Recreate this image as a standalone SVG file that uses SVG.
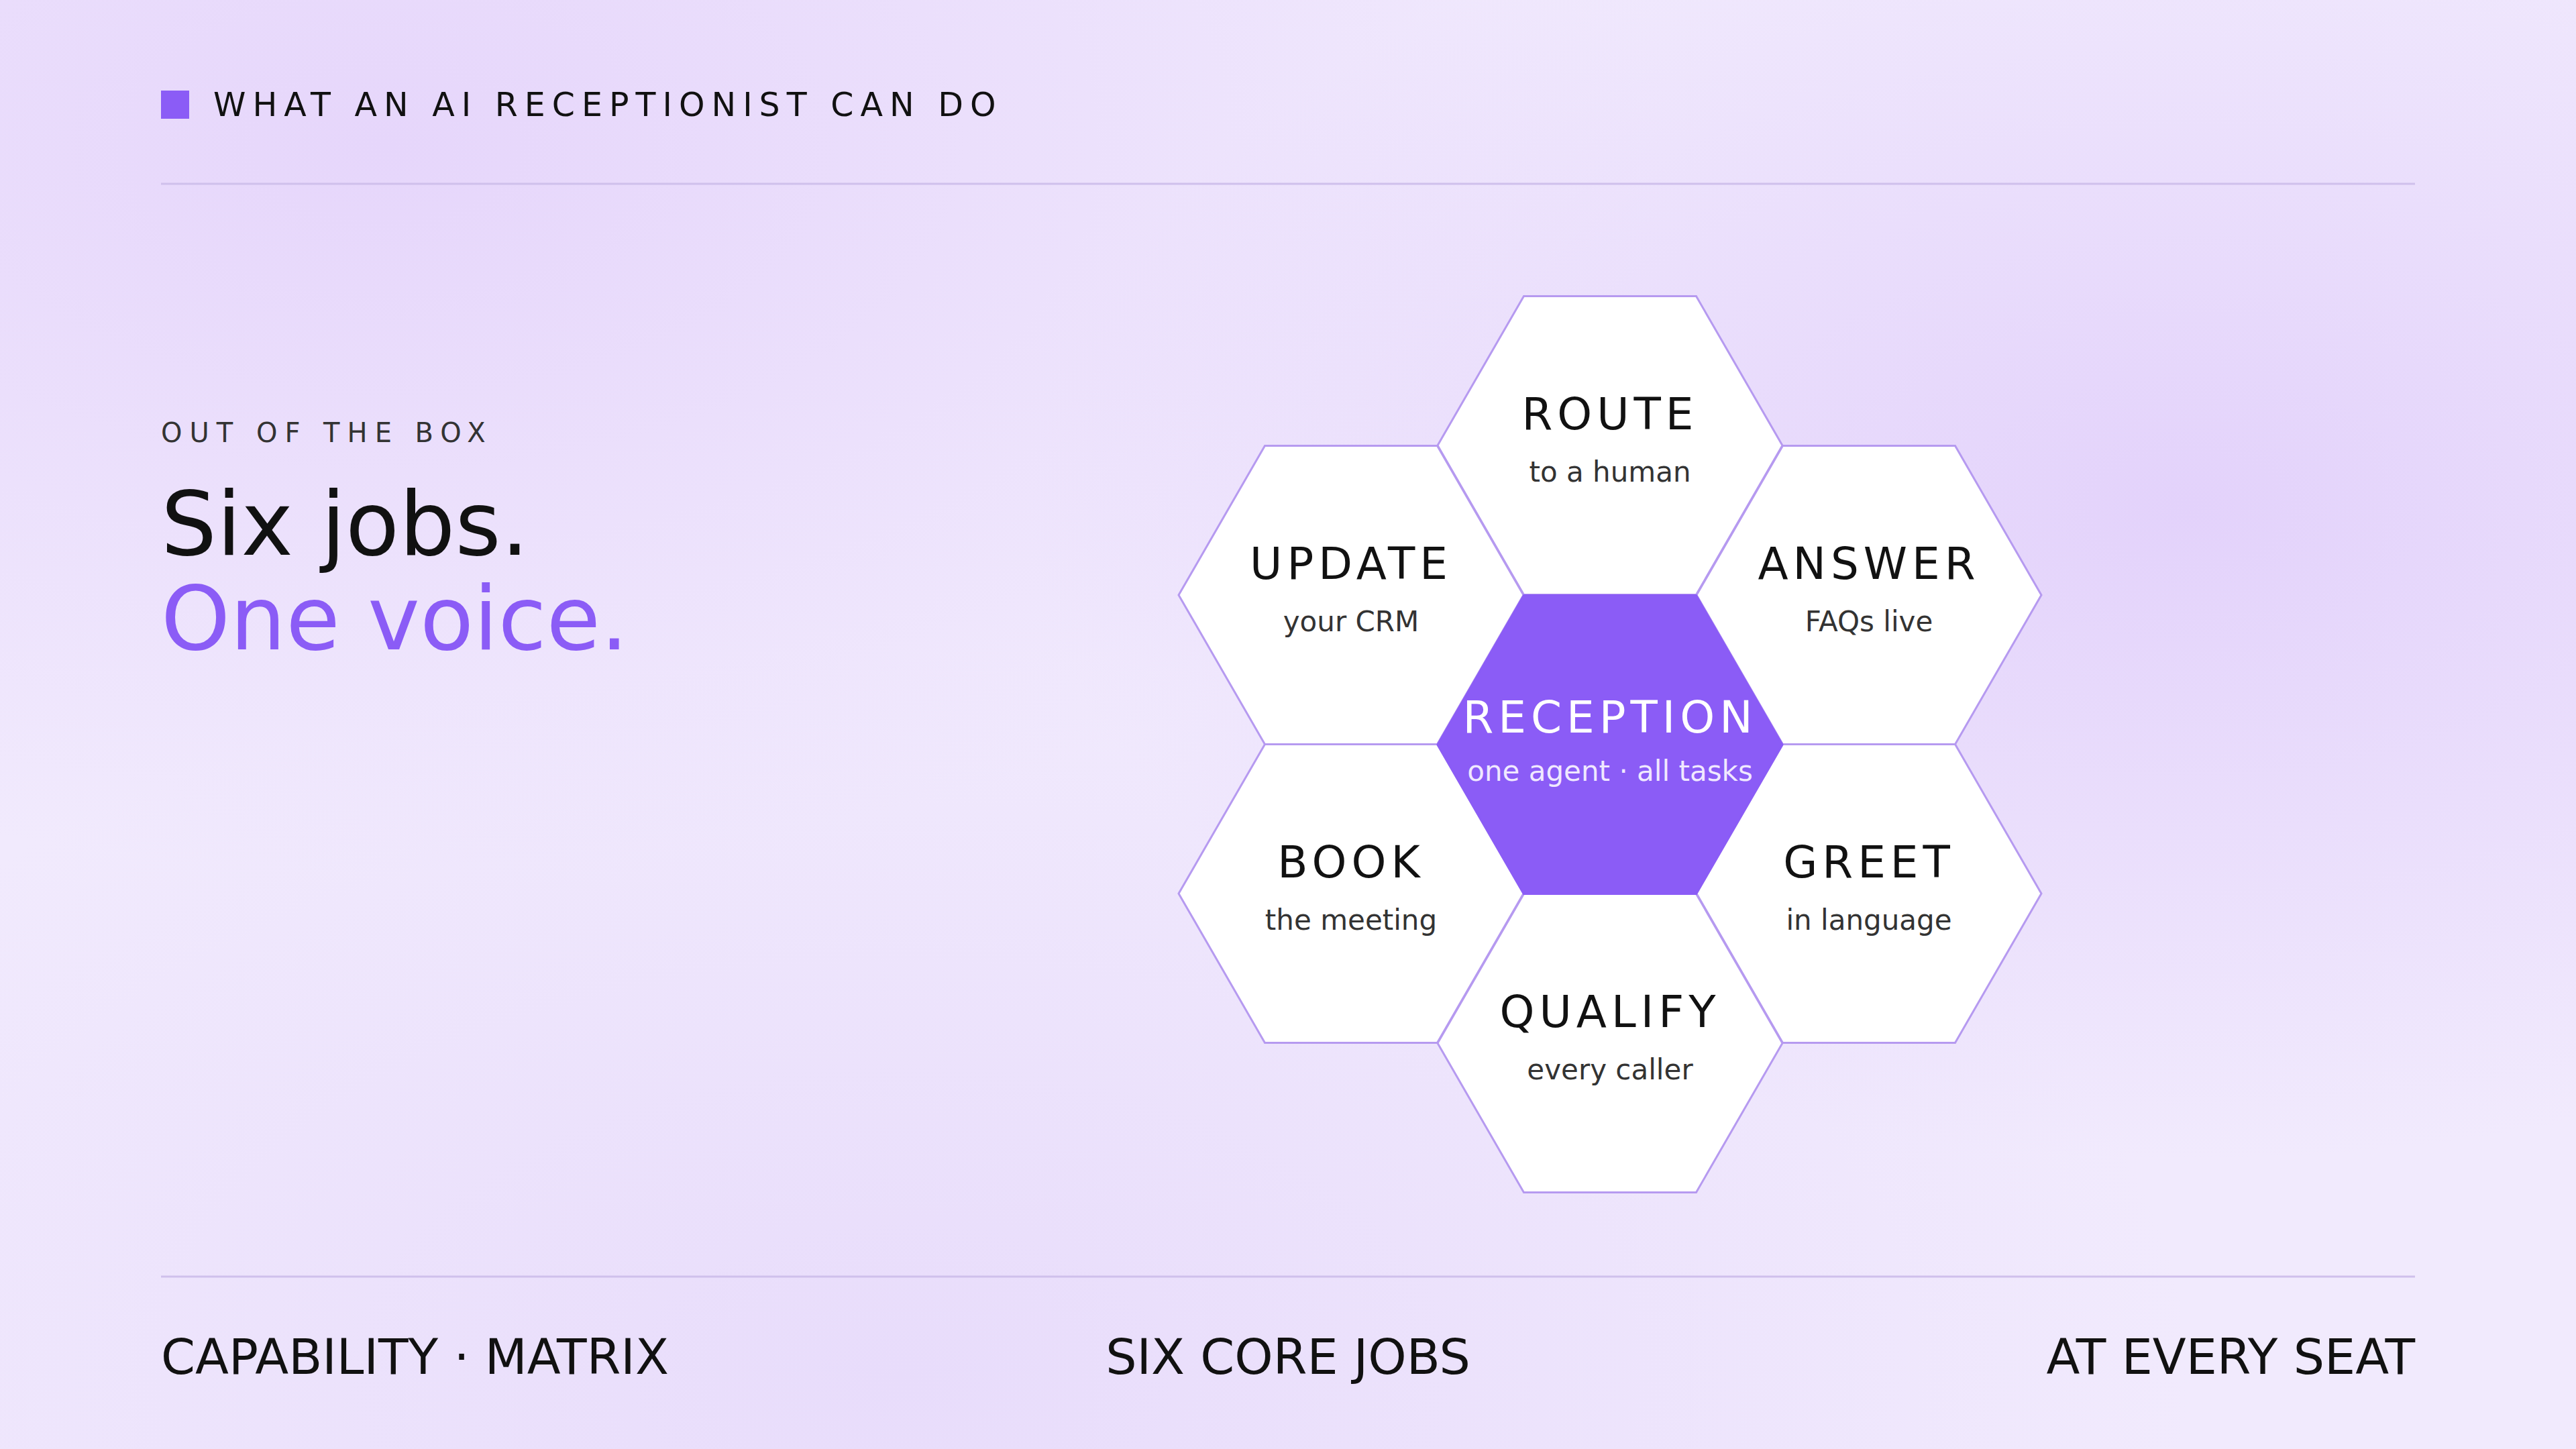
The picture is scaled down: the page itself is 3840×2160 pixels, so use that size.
<svg xmlns="http://www.w3.org/2000/svg" width="3840" height="2160" viewBox="0 0 3840 2160">
<defs>
<radialGradient id="g1" cx="0.15" cy="0.1" r="0.5"><stop offset="0" stop-color="#e6d6fb"/><stop offset="1" stop-color="#e6d6fb" stop-opacity="0"/></radialGradient>
<radialGradient id="g2" cx="0.85" cy="0.35" r="0.45"><stop offset="0" stop-color="#e3d2fb"/><stop offset="1" stop-color="#e3d2fb" stop-opacity="0"/></radialGradient>
<radialGradient id="g3" cx="0.35" cy="0.95" r="0.5"><stop offset="0" stop-color="#e8dcfb"/><stop offset="1" stop-color="#e8dcfb" stop-opacity="0"/></radialGradient>
<polygon id="hex" points="-257,0 -128.5,-222.5 128.5,-222.5 257,0 128.5,222.5 -128.5,222.5"/>
</defs>
<style>
text{font-family:"DejaVu Sans","Liberation Sans",sans-serif}
.hx{fill:#fff;stroke:#b69af0;stroke-width:3}
.t{font-size:66px;letter-spacing:7px;fill:#111;text-anchor:middle}
.s{font-size:42px;fill:#333;text-anchor:middle}
.f{font-size:73px;fill:#111}
</style>
<rect width="3840" height="2160" fill="#f1eafd"/>
<rect width="3840" height="2160" fill="url(#g1)"/>
<rect width="3840" height="2160" fill="url(#g2)"/>
<rect width="3840" height="2160" fill="url(#g3)"/>
<rect x="240" y="135" width="42" height="42" fill="#8b5cf6"/>
<text x="318" y="173" font-size="49" letter-spacing="10" fill="#111">WHAT AN AI RECEPTIONIST CAN DO</text>
<line x1="240" y1="274" x2="3600" y2="274" stroke="#cfc0ec" stroke-width="3"/>
<text x="240" y="659" font-size="40" letter-spacing="11" fill="#333">OUT OF THE BOX</text>
<text x="240" y="827" font-size="131" fill="#111">Six jobs.</text>
<text x="240" y="968" font-size="131" fill="#8b5cf6">One voice.</text>
<g id="connectors"/>
<g id="route" transform="translate(2400,664)"><use href="#hex" class="hx"/><text class="t" y="-24">ROUTE</text><text class="s" y="54">to a human</text></g>
<g id="update" transform="translate(2014,887)"><use href="#hex" class="hx"/><text class="t" y="-24">UPDATE</text><text class="s" y="54">your CRM</text></g>
<g id="answer" transform="translate(2786,887)"><use href="#hex" class="hx"/><text class="t" y="-24">ANSWER</text><text class="s" y="54">FAQs live</text></g>
<g id="book" transform="translate(2014,1332)"><use href="#hex" class="hx"/><text class="t" y="-24">BOOK</text><text class="s" y="54">the meeting</text></g>
<g id="greet" transform="translate(2786,1332)"><use href="#hex" class="hx"/><text class="t" y="-24">GREET</text><text class="s" y="54">in language</text></g>
<g id="qualify" transform="translate(2400,1555)"><use href="#hex" class="hx"/><text class="t" y="-24">QUALIFY</text><text class="s" y="54">every caller</text></g>
<g id="reception" transform="translate(2400,1110)"><use href="#hex" fill="#8b5cf6" stroke="#8b5cf6" stroke-width="3"/><text class="t" y="-18" style="fill:#fff">RECEPTION</text><text class="s" y="54" style="fill:#f0e8ff">one agent · all tasks</text></g>
<line x1="240" y1="1903" x2="3600" y2="1903" stroke="#cfc0ec" stroke-width="3"/>
<text class="f" x="240" y="2048">CAPABILITY · MATRIX</text>
<text class="f" x="1920" y="2048" text-anchor="middle">SIX CORE JOBS</text>
<text class="f" x="3600" y="2048" text-anchor="end">AT EVERY SEAT</text>
</svg>
